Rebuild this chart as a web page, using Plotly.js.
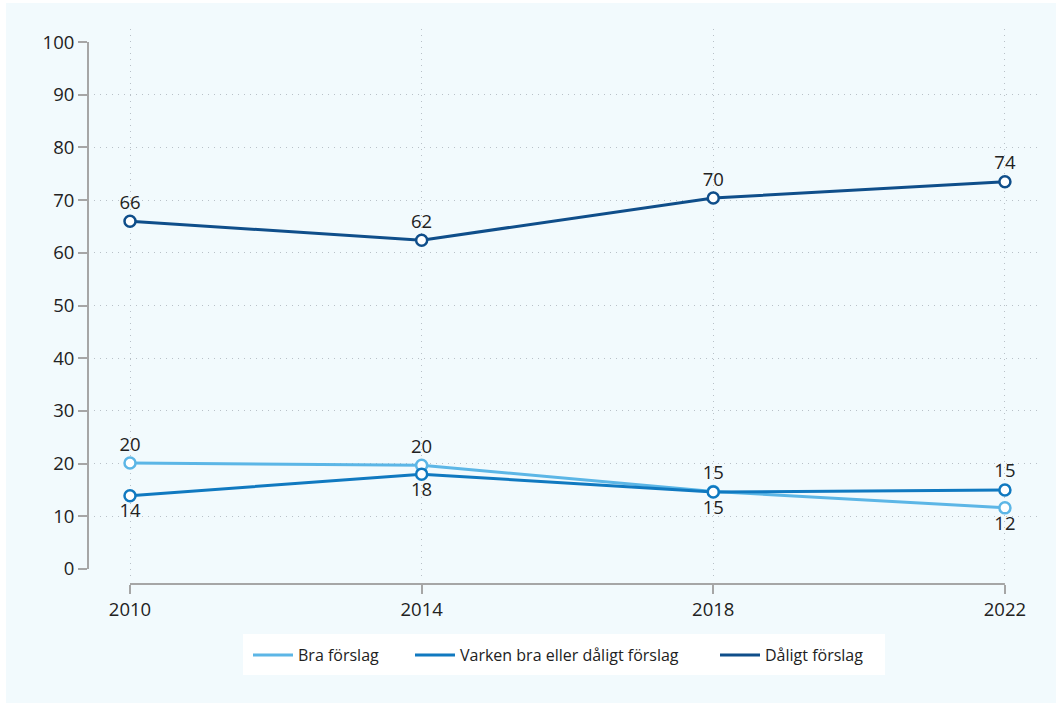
<!DOCTYPE html>
<html>
<head>
<meta charset="utf-8">
<script src="https://cdn.plot.ly/plotly-3.0.1.min.js"></script>
<style>
  html, body { margin: 0; padding: 0; background: #ffffff; overflow: hidden; }
  #chart { position: absolute; left: 6px; top: 3px; width: 1050px; height: 700px; }
</style>
</head>
<body>
<div id="chart"></div>
<script>
const years = [2010, 2014, 2018, 2022];
const seriesNames = ["Bra förslag", "Varken bra eller dåligt förslag", "Dåligt förslag"];
const braValues = [20.1, 19.7, 14.7, 11.6];
const varkenValues = [13.9, 18.0, 14.6, 15.0];
const daligtValues = [66.0, 62.4, 70.4, 73.5];
const braLabelPos = ["top center", "top center", "top center", "bottom center"];
const varkenLabelPos = ["bottom center", "bottom center", "bottom center", "top center"];
const daligtLabelPos = ["top center", "top center", "top center", "top center"];
const yTickVals = [0, 10, 20, 30, 40, 50, 60, 70, 80, 90, 100];
const yGridVals = [10, 20, 30, 40, 50, 60, 70, 80, 90];
const colors = ["#5cb6e6", "#1079c0", "#0f4e8a"];

const FONT = "Open Sans";
const STRETCH = "condensed";
function f(size) { return { family: FONT, size: size, color: "#222222", stretch: STRETCH }; }

function mk(name, vals, pos, color) {
  return {
    type: "scatter", mode: "lines+markers+text", name: name,
    x: years, y: vals,
    text: vals.map(v => String(Math.round(v))),
    textposition: pos,
    textfont: f(18.5),
    line: { color: color, width: 3 },
    marker: { symbol: "circle", size: 11, color: "#ffffff", line: { color: color, width: 2.5 } },
    cliponaxis: false, showlegend: false,
    hoverinfo: "skip"
  };
}
function leg(name, color, legendId) {
  return { type: "scatter", mode: "lines", name: name, x: [null], y: [null],
    line: { color: color, width: 3 }, showlegend: true, legend: legendId, hoverinfo: "skip" };
}

const data = [
  mk(seriesNames[0], braValues, braLabelPos, colors[0]),
  mk(seriesNames[1], varkenValues, varkenLabelPos, colors[1]),
  mk(seriesNames[2], daligtValues, daligtLabelPos, colors[2]),
  leg(seriesNames[0], colors[0], "legend"),
  leg(seriesNames[1], colors[1], "legend2"),
  leg(seriesNames[2], colors[2], "legend3"),
  { type: "scatter", x: [years[0]], y: [null], yaxis: "y2", showlegend: false, hoverinfo: "skip" }
];

function legendCfg(x) {
  return { orientation: "h", x: x, xanchor: "left", y: -0.128, yanchor: "middle",
    bgcolor: "rgba(0,0,0,0)", borderwidth: 0, font: f(16), itemwidth: 40 };
}

const gridStyle = { gridcolor: "#b9c1c8", griddash: "1px,5px", gridwidth: 1 };

const layout = {
  width: 1050, height: 700,
  margin: { l: 82, r: 19, t: 26, b: 119 },
  paper_bgcolor: "#f2fafd",
  plot_bgcolor: "rgba(0,0,0,0)",
  font: f(18),
  showlegend: true,
  legend: legendCfg(0.1686),
  legend2: legendCfg(0.3393),
  legend3: legendCfg(0.6607),
  xaxis: Object.assign({
    range: [2009.424, 2022.44],
    anchor: "free", position: 0,
    tickvals: years, ticktext: years.map(String),
    ticks: "outside", ticklen: 9, tickwidth: 2, tickcolor: "#a6a6a6",
    showline: false, zeroline: false, showgrid: true,
    tickfont: f(18.5), fixedrange: true
  }, gridStyle),
  yaxis: {
    domain: [0.0108, 1],
    range: [-1.71, 102.47],
    tickvals: yTickVals,
    ticks: "outside", ticklen: 9, tickwidth: 2, tickcolor: "#a6a6a6",
    showline: false, zeroline: false, showgrid: false,
    tickfont: f(18.5), fixedrange: true
  },
  yaxis2: Object.assign({
    overlaying: "y", domain: [0.0108, 1],
    range: [-1.71, 102.47],
    tickvals: yGridVals, showticklabels: false, ticks: "",
    showgrid: true, zeroline: false, showline: false, fixedrange: true
  }, gridStyle),
  shapes: [
    { type: "rect", xref: "paper", yref: "paper", x0: 0.1633, x1: 0.8398, y0: -0.164, y1: -0.090,
      fillcolor: "#ffffff", line: { width: 0 }, layer: "below" },
    { type: "line", xref: "paper", yref: "y", x0: 0, x1: 0, y0: 0, y1: 100,
      line: { color: "#a6a6a6", width: 2 } },
    { type: "line", xref: "x", yref: "paper", x0: 2010, x1: 2022, y0: 0, y1: 0,
      line: { color: "#a6a6a6", width: 2 } }
  ]
};

Plotly.newPlot("chart", data, layout, { displayModeBar: false, staticPlot: true });
</script>
</body>
</html>
